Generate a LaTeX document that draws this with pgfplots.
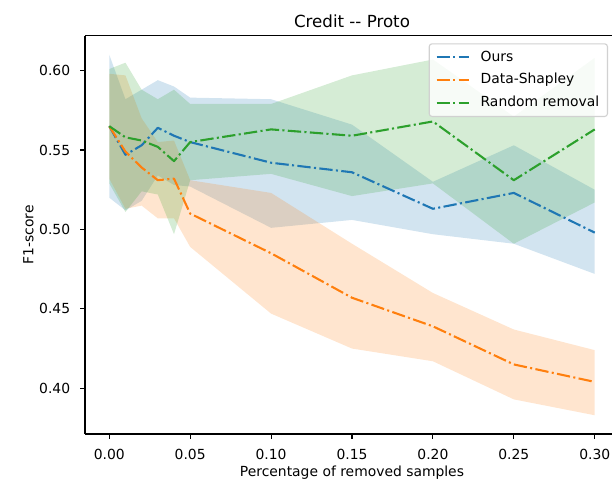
\documentclass[border=0pt]{standalone}
\usepackage{fontspec}
\setmainfont{DejaVu Sans}
\usepackage{pgfplots}
\usepackage{pgfplotstable}
\pgfplotsset{compat=1.18}
\usepgfplotslibrary{fillbetween}
\definecolor{tabblue}{RGB}{31,119,180}
\definecolor{taborange}{RGB}{255,127,14}
\definecolor{tabgreen}{RGB}{44,160,44}

\pgfplotstableread{
x    m     up    lo
0.00 0.565 0.610 0.520
0.01 0.547 0.582 0.512
0.02 0.553 0.588 0.518
0.03 0.564 0.594 0.534
0.04 0.559 0.590 0.528
0.05 0.555 0.583 0.527
0.10 0.542 0.582 0.501
0.15 0.536 0.566 0.506
0.20 0.513 0.530 0.497
0.25 0.523 0.553 0.491
0.30 0.498 0.525 0.472
}\ours
\pgfplotstableread{
x    m     up    lo
0.00 0.565 0.598 0.532
0.01 0.549 0.597 0.513
0.02 0.539 0.570 0.515
0.03 0.531 0.555 0.507
0.04 0.532 0.556 0.507
0.05 0.510 0.531 0.489
0.10 0.485 0.523 0.447
0.15 0.457 0.491 0.425
0.20 0.439 0.460 0.417
0.25 0.415 0.437 0.393
0.30 0.404 0.424 0.383
}\shapley
\pgfplotstableread{
x    m     up    lo
0.00 0.565 0.601 0.529
0.01 0.558 0.605 0.511
0.02 0.556 0.588 0.524
0.03 0.552 0.582 0.522
0.04 0.543 0.588 0.497
0.05 0.555 0.579 0.531
0.10 0.563 0.579 0.535
0.15 0.559 0.597 0.521
0.20 0.568 0.607 0.529
0.25 0.531 0.571 0.491
0.30 0.563 0.608 0.517
}\random

\begin{document}
\begin{tikzpicture}
\begin{axis}[
  at={(0,0)}, anchor=south west,
  scale only axis,
  width=384.48bp, height=286.78bp,
  xmin=-0.015, xmax=0.315,
  ymin=0.3712, ymax=0.6220,
  axis lines*=left,
  xtick={0,0.05,0.10,0.15,0.20,0.25,0.30},
  ytick={0.40,0.45,0.50,0.55,0.60},
  /pgf/number format/assume math mode=true,
  /pgf/number format/fixed,
  /pgf/number format/fixed zerofill,
  /pgf/number format/precision=2,
  scaled ticks=false,
  tick align=outside,
  major tick length=3.5bp,
  tick style={line width=0.8bp, black},
  axis line style={line width=0.8bp, black},
  ticklabel style={font=\fontsize{10bp}{12bp}\selectfont},
  xticklabel style={inner sep=0pt, anchor=north, yshift=-7bp},
  yticklabel style={inner sep=0pt, anchor=east, xshift=-7bp},
  title={Credit -{}- Proto},
  every axis title shift=0pt,
  title style={at={(axis description cs:0.5,1.0211)}, anchor=base, yshift=0pt, font=\fontsize{12bp}{14bp}\selectfont},
  xlabel={Percentage of removed samples},
  xlabel style={at={(axis description cs:0.5,-0.1067)}, anchor=base, font=\fontsize{10bp}{12bp}\selectfont},
  ylabel={F1-score},
  ylabel style={at={(axis description cs:-0.0968,0.5)}, anchor=base, font=\fontsize{10bp}{12bp}\selectfont},
  legend cell align=left,
  legend image code/.code={\draw[#1] (0bp,0bp) -- (23.5bp,0bp);},
  legend style={at={(0.9794,0.981)}, anchor=north east, draw=black!18, line width=0.8bp,
    rounded corners=2bp, fill=white, fill opacity=0.8, text opacity=1,
    font=\fontsize{10bp}{12bp}\selectfont, inner xsep=4.5bp, inner ysep=3.4bp, row sep=4bp,
    nodes={inner sep=1.5bp, text height=7.5bp, text depth=2bp},
    /tikz/every odd column/.append style={column sep=6bp}},
]
\addplot[tabblue, line width=1.5bp, line cap=butt, line join=round, dash pattern=on 9.6bp off 2.4bp on 1.5bp off 2.4bp] table[x=x,y=m]{\ours};
\addlegendentry{Ours}
\addplot[draw=none, name path=ou, forget plot] table[x=x,y=up]{\ours};
\addplot[draw=none, name path=ol, forget plot] table[x=x,y=lo]{\ours};
\addplot[fill=tabblue, fill opacity=0.2, draw=none, forget plot] fill between[of=ou and ol];

\addplot[taborange, line width=1.5bp, line cap=butt, line join=round, dash pattern=on 9.6bp off 2.4bp on 1.5bp off 2.4bp] table[x=x,y=m]{\shapley};
\addlegendentry{Data-Shapley}
\addplot[draw=none, name path=su, forget plot] table[x=x,y=up]{\shapley};
\addplot[draw=none, name path=sl, forget plot] table[x=x,y=lo]{\shapley};
\addplot[fill=taborange, fill opacity=0.2, draw=none, forget plot] fill between[of=su and sl];

\addplot[tabgreen, line width=1.5bp, line cap=butt, line join=round, dash pattern=on 9.6bp off 2.4bp on 1.5bp off 2.4bp] table[x=x,y=m]{\random};
\addlegendentry{Random removal}
\addplot[draw=none, name path=ru, forget plot] table[x=x,y=up]{\random};
\addplot[draw=none, name path=rl, forget plot] table[x=x,y=lo]{\random};
\addplot[fill=tabgreen, fill opacity=0.2, draw=none, forget plot] fill between[of=ru and rl];
\draw[line width=0.8bp, black] (rel axis cs:0,1) -- (rel axis cs:1,1);
\end{axis}
\pgfresetboundingbox
\useasboundingbox (-61.2bp,-32.4bp) rectangle (379.44bp,312.48bp);
\end{tikzpicture}
\end{document}
